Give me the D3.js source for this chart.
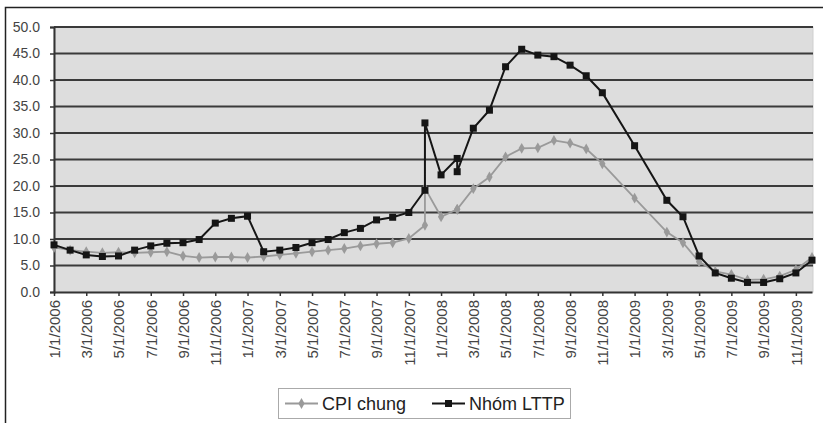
<!DOCTYPE html>
<html>
<head>
<meta charset="utf-8">
<script src="https://cdn.jsdelivr.net/npm/d3@7"></script>
<style>
  body { margin: 0; background: #fff; }
  svg { display: block; font-family: "Liberation Sans", Arial, sans-serif; }
</style>
</head>
<body>
<script>
// months of the observations (some months appear twice in the source table)
const months = [
  "2006-01","2006-02","2006-03","2006-04","2006-05","2006-06","2006-07","2006-08",
  "2006-09","2006-10","2006-11","2006-12","2007-01","2007-02","2007-03","2007-04",
  "2007-05","2007-06","2007-07","2007-08","2007-09","2007-10","2007-11","2007-12",
  "2007-12","2008-01","2008-02","2008-02","2008-03","2008-04","2008-05","2008-06",
  "2008-07","2008-08","2008-09","2008-10","2008-11","2009-01","2009-03","2009-04",
  "2009-05","2009-06","2009-07","2009-08","2009-09","2009-10","2009-11","2009-12"
];
const cpiChung = [
  8.4, 7.9, 7.6, 7.4, 7.5, 7.4, 7.5, 7.6, 6.8, 6.5, 6.6, 6.6,
  6.5, 6.7, 7.0, 7.3, 7.6, 7.9, 8.2, 8.7, 9.1, 9.3, 10.1, 12.6,
  19.6, 14.2, 15.6, 15.6, 19.5, 21.7, 25.5, 27.1, 27.2, 28.6, 28.1, 27.0,
  24.2, 17.7, 11.3, 9.3, 5.7, 3.9, 3.3, 2.3, 2.4, 3.0, 4.2, 6.5
];
const nhomLTTP = [
  8.9, 7.9, 7.0, 6.7, 6.8, 7.9, 8.7, 9.2, 9.3, 9.9, 13.0, 13.9,
  14.3, 7.6, 7.9, 8.4, 9.3, 9.9, 11.2, 12.0, 13.6, 14.1, 15.0, 19.2,
  31.9, 22.1, 25.2, 22.7, 30.9, 34.3, 42.5, 45.8, 44.7, 44.4, 42.8, 40.8,
  37.6, 27.6, 17.3, 14.2, 6.8, 3.6, 2.6, 1.8, 1.8, 2.5, 3.6, 6.0
];
const xTickLabels = [
  "1/1/2006","3/1/2006","5/1/2006","7/1/2006","9/1/2006","11/1/2006",
  "1/1/2007","3/1/2007","5/1/2007","7/1/2007","9/1/2007","11/1/2007",
  "1/1/2008","3/1/2008","5/1/2008","7/1/2008","9/1/2008","11/1/2008",
  "1/1/2009","3/1/2009","5/1/2009","7/1/2009","9/1/2009","11/1/2009"
];
const yTicks = [0, 5, 10, 15, 20, 25, 30, 35, 40, 45, 50];
const seriesNames = ["CPI chung", "Nhóm LTTP"];

// month index since Jan 2006
const monthIdx = s => { const [y, m] = s.split("-").map(Number); return (y - 2006) * 12 + m - 1; };
const labelIdx = s => { const [m, , y] = s.split("/").map(Number); return (y - 2006) * 12 + m - 1; };

const W = 823, H = 423;
const plot = {left: 54, right: 812, top: 27, bottom: 292};

const svg = d3.select("body").append("svg")
  .attr("width", W)
  .attr("height", H);

// outer chart border
svg.append("rect")
  .attr("x", 5.5).attr("y", 7.5)
  .attr("width", 840).attr("height", 440)
  .attr("fill", "none")
  .attr("stroke", "#222")
  .attr("stroke-width", 1.5);

const x = d3.scaleLinear()
  .domain([0, monthIdx("2009-12")])
  .range([plot.left, plot.right]);

const y = d3.scaleLinear()
  .domain([0, 50])
  .range([plot.bottom, plot.top]);

// plot background
svg.append("rect")
  .attr("x", plot.left).attr("y", plot.top)
  .attr("width", plot.right - plot.left + 1)
  .attr("height", plot.bottom - plot.top)
  .attr("fill", "#dddddd")
  .attr("stroke", "#cfcfcf");

// gridlines
svg.append("g")
  .selectAll("line")
  .data(yTicks.filter(d => d > 0))
  .enter()
  .append("line")
  .attr("x1", plot.left).attr("x2", plot.right + 1)
  .attr("y1", d => y(d)).attr("y2", d => y(d))
  .attr("stroke", "#3a3a3a")
  .attr("stroke-width", 2);

// y axis
const yAxis = svg.append("g")
  .attr("transform", `translate(${plot.left},0)`)
  .call(d3.axisLeft(y).tickValues(yTicks).tickFormat(d3.format(".1f")).tickSize(4).tickPadding(10));
yAxis.select(".domain").attr("stroke", "#333").attr("stroke-width", 2);
yAxis.selectAll(".tick line").attr("stroke", "#333").attr("stroke-width", 1.5);
yAxis.selectAll("text")
  .attr("fill", "#444")
  .style("font-size", "14px");

// x axis
const xAxis = svg.append("g")
  .attr("transform", `translate(0,${plot.bottom})`)
  .call(d3.axisBottom(x)
    .tickValues(xTickLabels.map(labelIdx))
    .tickFormat((d, i) => xTickLabels[i])
    .tickSize(4)
    .tickSizeOuter(0));
xAxis.select(".domain").attr("stroke", "#333").attr("stroke-width", 2);
xAxis.selectAll(".tick line").attr("stroke", "#333").attr("stroke-width", 1.5);
xAxis.selectAll("text")
  .attr("transform", "rotate(-90)")
  .attr("x", -8)
  .attr("y", 0)
  .attr("dy", "0.35em")
  .attr("fill", "#444")
  .style("text-anchor", "end")
  .style("font-size", "15px");

// series
const cpiData = months.map((m, i) => ({i: monthIdx(m), v: cpiChung[i]}));
const lttpData = months.map((m, i) => ({i: monthIdx(m), v: nhomLTTP[i]}));

const line = d3.line().x(d => x(d.i)).y(d => y(d.v));

svg.append("path")
  .datum(cpiData)
  .attr("d", line)
  .attr("fill", "none")
  .attr("stroke", "#9a9a9a")
  .attr("stroke-width", 1.8);

const diamond = d3.symbol().type(d3.symbolDiamond).size(34);
svg.append("g")
  .selectAll("path")
  .data(cpiData)
  .enter()
  .append("path")
  .attr("d", diamond)
  .attr("transform", d => `translate(${x(d.i)},${y(d.v)})`)
  .attr("fill", "#9a9a9a");

svg.append("path")
  .datum(lttpData)
  .attr("d", line)
  .attr("fill", "none")
  .attr("stroke", "#151515")
  .attr("stroke-width", 2);

svg.append("g")
  .selectAll("rect")
  .data(lttpData)
  .enter()
  .append("rect")
  .attr("x", d => x(d.i) - 3.5)
  .attr("y", d => y(d.v) - 3.5)
  .attr("width", 7)
  .attr("height", 7)
  .attr("fill", "#151515");

// legend
const lg = svg.append("g");
lg.append("rect")
  .attr("x", 278.5).attr("y", 388.5)
  .attr("width", 292).attr("height", 30)
  .attr("fill", "#fff")
  .attr("stroke", "#aaa");

const legendItems = [
  {name: seriesNames[0], x0: 285, color: "#9a9a9a", marker: "diamond"},
  {name: seriesNames[1], x0: 432, color: "#151515", marker: "square"}
];
legendItems.forEach(it => {
  const cy = 403.5;
  lg.append("line")
    .attr("x1", it.x0).attr("x2", it.x0 + 33)
    .attr("y1", cy).attr("y2", cy)
    .attr("stroke", it.color)
    .attr("stroke-width", 2);
  if (it.marker === "diamond") {
    lg.append("path")
      .attr("d", diamond)
      .attr("transform", `translate(${it.x0 + 16.5},${cy})`)
      .attr("fill", it.color);
  } else {
    lg.append("rect")
      .attr("x", it.x0 + 13).attr("y", cy - 3.5)
      .attr("width", 7).attr("height", 7)
      .attr("fill", it.color);
  }
  lg.append("text")
    .attr("x", it.x0 + 37)
    .attr("y", cy)
    .attr("dy", "0.36em")
    .attr("fill", "#222")
    .style("font-size", "18px")
    .text(it.name);
});
</script>
</body>
</html>
